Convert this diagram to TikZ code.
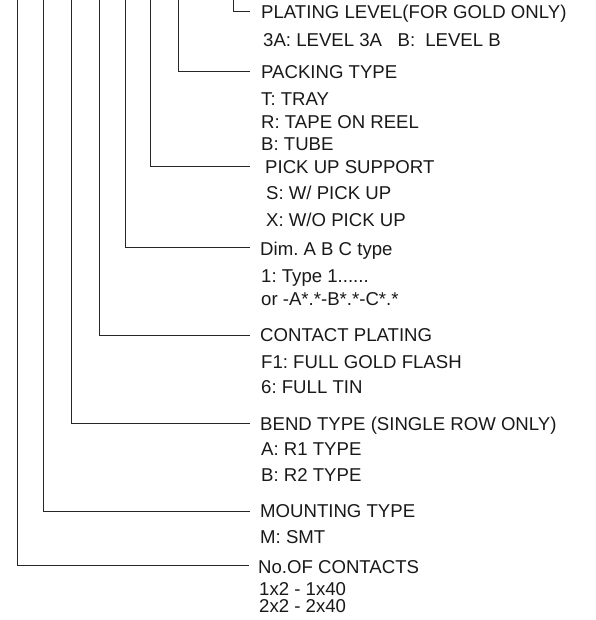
\documentclass[tikz,border=0pt]{standalone}
\usepackage{fontspec}
\setmainfont{Liberation Sans}
\frenchspacing
\begin{document}
\begin{tikzpicture}[x=1pt,y=-1pt,
  lbl/.style={anchor=base west,inner sep=0pt,font=\fontsize{18.6}{20}\selectfont\frenchspacing,text=black!90},
  lead/.style={draw=black!85,line width=0.9pt}]
\useasboundingbox (0,0) rectangle (595,620);
% labels
\node[lbl] (pl)  at (261,18.3) {PLATING LEVEL(FOR GOLD ONLY)};
\node[lbl] (pl1) at (263,46.5) {3A: LEVEL 3A\hspace{15.5pt}B:\hspace{5pt} LEVEL B};
\node[lbl] (pk)  at (261,78.3) {PACKING TYPE};
\node[lbl] (pk1) at (261,106) {T: TRAY};
\node[lbl] (pk2) at (261,128.3) {R: TAPE ON REEL};
\node[lbl] (pk3) at (261,150.5) {B: TUBE};
\node[lbl] (pu)  at (265,173.3) {PICK UP SUPPORT};
\node[lbl] (pu1) at (266,200) {S: W/ PICK UP};
\node[lbl] (pu2) at (266,226) {X: W/O PICK UP};
\node[lbl] (dm)  at (260,255.5) {Dim. A B C type};
\node[lbl] (dm1) at (261,282.5) {1: Type 1......};
\node[lbl] (dm2) at (261,305) {or -A*.*-B*.*-C*.*};
\node[lbl] (cp)  at (260,341.7) {CONTACT PLATING};
\node[lbl] (cp1) at (261,368) {F1: FULL GOLD FLASH};
\node[lbl] (cp2) at (261,393) {6: FULL TIN};
\node[lbl] (bt)  at (260,430.7) {BEND TYPE (SINGLE ROW ONLY)};
\node[lbl] (bt1) at (261,455.7) {A: R1 TYPE};
\node[lbl] (bt2) at (261,481.7) {B: R2 TYPE};
\node[lbl] (mt)  at (260,517) {MOUNTING TYPE};
\node[lbl] (mt1) at (260,543) {M: SMT};
\node[lbl] (nc)  at (258,573) {No.OF CONTACTS};
\node[lbl] (nc1) at (259,595) {1x2 - 1x40};
\node[lbl] (nc2) at (259,612) {2x2 - 2x40};
% leader endpoints
\coordinate (t1) at (233.5,0);  \coordinate (e1) at (250,11);
\coordinate (t2) at (178,0);    \coordinate (e2) at (250,71);
\coordinate (t3) at (150,0);    \coordinate (e3) at (250,166.7);
\coordinate (t4) at (125,0);    \coordinate (e4) at (250,247.7);
\coordinate (t5) at (99,0);     \coordinate (e5) at (250,335.7);
\coordinate (t6) at (71.5,0);   \coordinate (e6) at (250,423.3);
\coordinate (t7) at (43.5,0);   \coordinate (e7) at (250,511);
\coordinate (t8) at (17.5,0);   \coordinate (e8) at (249,565.7);
\foreach \i in {1,...,8} { \draw[lead] (t\i) |- (e\i); }
\end{tikzpicture}
\end{document}
